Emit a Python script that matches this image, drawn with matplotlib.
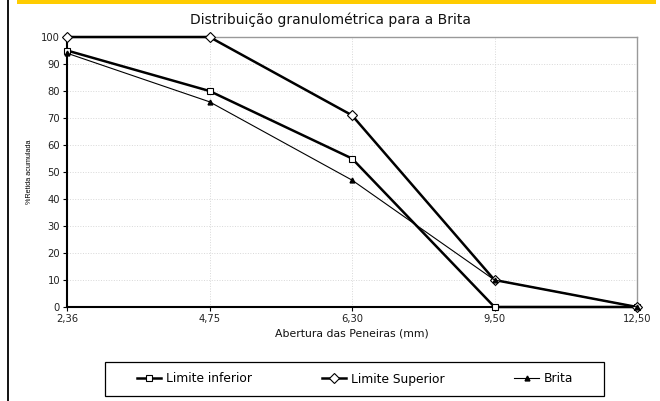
import matplotlib
matplotlib.use("Agg")
import matplotlib.pyplot as plt
from matplotlib.lines import Line2D
import matplotlib.patches as mpatches

plt.rcParams['font.family'] = ['DejaVu Sans']

categories = ["2,36", "4,75", "6,30", "9,50", "12,50"]
limite_inferior = [95, 80, 55, 0, 0]
limite_superior = [100, 100, 71, 10, 0]
brita = [94, 76, 47, 10, 0]
yticks = [0, 10, 20, 30, 40, 50, 60, 70, 80, 90, 100]

fig = plt.figure(figsize=(6.6, 4.01), dpi=100)
fig.patch.set_facecolor('white')

W, H = 660, 401
# decorative frame elements
fig.add_artist(mpatches.Rectangle((17/W, 1 - 4/H), (656-17)/W, 4/H,
                                  transform=fig.transFigure, color='#FFCC00', lw=0))
fig.add_artist(Line2D([7.5/W, 7.5/W], [0, 1], transform=fig.transFigure,
                      color='black', lw=1.3))

ax = fig.add_axes([67/W, 1 - 307/H, (637-67)/W, (307-37)/H])
x = list(range(len(categories)))

ax.plot(x, limite_inferior, color='black', lw=1.8, marker='s', ms=5,
        mfc='white', mec='black', mew=0.8, label='Limite inferior', clip_on=False, zorder=3)
ax.plot(x, limite_superior, color='black', lw=1.8, marker='D', ms=5,
        mfc='white', mec='black', mew=0.8, label='Limite Superior', clip_on=False, zorder=3)
ax.plot(x, brita, color='black', lw=0.8, marker='^', ms=3.5,
        mfc='black', mec='black', label='Brita', clip_on=False, zorder=4)

ax.set_xlim(0, len(categories) - 1)
ax.set_ylim(0, 100)
ax.set_xticks(x)
ax.set_xticklabels(categories, fontsize=7.2, color='#222222')
ax.set_yticks(yticks)
ax.set_yticklabels([str(v) for v in yticks], fontsize=7.2, color='#222222')
ax.tick_params(axis='both', length=3, width=0.8, color='black', pad=2)

ax.grid(True, color='#d8d8d8', ls=':', lw=0.7)
ax.set_axisbelow(True)
for s in ['top', 'right']:
    ax.spines[s].set_color('#999999')
    ax.spines[s].set_linewidth(1.0)
for s in ['left', 'bottom']:
    ax.spines[s].set_color('black')
    ax.spines[s].set_linewidth(1.5)

fig.text(331/W, 1 - 20/H, 'Distribuição granulométrica para a Brita', fontsize=10,
         ha='center', va='center', color='#111111')
ax.set_xlabel('Abertura das Peneiras (mm)', fontsize=7.8, labelpad=3, color='#111111')
ax.set_ylabel('%Retida acumulada', fontsize=5.2, labelpad=6,
              family=['Liberation Sans Narrow', 'Liberation Sans'])

# legend box
fig.add_artist(mpatches.Rectangle((105/W, 1 - 396/H), (604-105)/W, 34/H,
                                  transform=fig.transFigure, fill=False,
                                  edgecolor='black', lw=0.9))
leg = fig.legend(loc='center left', ncol=3, mode='expand',
                 bbox_to_anchor=(137/W, 1 - 379/H, (573-137)/W, 0),
                 fontsize=8.8, frameon=False, borderaxespad=0,
                 borderpad=0, handlelength=2.0, handletextpad=0.4)

fig.savefig('out.png', dpi=100)
